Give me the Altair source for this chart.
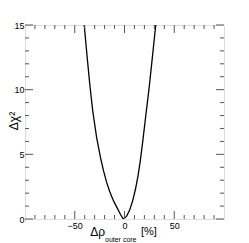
import altair as alt
import pandas as pd

# curve data
curve_x = [-40.5, -37.5, -35.0, -32.0, -28.0, -24.0, -21.0, -18.0, -15.0, -11.0, -7.0, -4.0, -1.3,
           2.0, 5.0, 8.0, 11.0, 13.5, 15.7, 18.5, 21.4, 24.7, 28.0, 31.4]
curve_y = [15.0, 12.5, 10.5, 8.4, 6.3, 4.7, 3.7, 2.85, 2.15, 1.4, 0.8, 0.35, 0.0,
           0.2, 0.65, 1.35, 2.3, 3.3, 4.4, 6.1, 8.0, 10.1, 12.5, 15.0]

x_labels = [-50, 0, 50]
x_minor = [-90, -80, -70, -60, -40, -30, -20, -10, 10, 20, 30, 40, 60, 70, 80, 90]
y_labels = [0, 5, 10, 15]
y_minor = [1, 2, 3, 4, 6, 7, 8, 9, 11, 12, 13, 14]

W, H = 199, 194
FRAME = "#555555"
FONT = "Liberation Sans"

xscale = alt.Scale(domain=[-100, 100], nice=False, zero=False)
yscale = alt.Scale(domain=[0, 15], nice=False, zero=False)

df = pd.DataFrame({"x": curve_x, "y": curve_y, "o": list(range(len(curve_x)))})

line = alt.Chart(df).mark_line(color="black", strokeWidth=1.3, clip=True).encode(
    x=alt.X("x:Q", scale=xscale,
            axis=alt.Axis(values=x_labels, ticks=False, domain=False, grid=False, title=None,
                          labelFontSize=9, labelFont=FONT, labelColor="black", labelPadding=2)),
    y=alt.Y("y:Q", scale=yscale,
            axis=alt.Axis(values=y_labels, ticks=False, domain=False, grid=False, title=None,
                          labelFontSize=9, labelFont=FONT, labelColor="black", labelPadding=1)),
    order="o:Q",
)


def xticks(vals, length, top):
    d = pd.DataFrame({"v": vals})
    if top:
        y1, y2 = 0, length
    else:
        y1, y2 = H, H - length
    return alt.Chart(d).mark_rule(color=FRAME, strokeWidth=1).encode(
        x=alt.X("v:Q", scale=xscale, axis=None), y=alt.value(y1), y2=alt.value(y2))


def yticks(vals, length, right):
    d = pd.DataFrame({"w": vals})
    if right:
        x1, x2 = W, W - length
    else:
        x1, x2 = 0, length
    return alt.Chart(d).mark_rule(color=FRAME, strokeWidth=1).encode(
        y=alt.Y("w:Q", scale=yscale, axis=None), x=alt.value(x1), x2=alt.value(x2))


tick_layers = [
    xticks(x_minor, 4, False), xticks(x_labels, 8, False),
    xticks(x_minor, 4, True), xticks(x_labels, 8, True),
    yticks(y_minor, 4, False), yticks(y_labels, 8, False),
    yticks(y_minor, 4, True), yticks(y_labels, 8, True),
]

tdf = pd.DataFrame({"a": [0]})
ytitle = alt.Chart(tdf).mark_text(text="Δχ²", angle=270, fontSize=12, font=FONT,
                                  color="black", align="center", baseline="middle").encode(
    x=alt.value(-11), y=alt.value(96))
xt1 = alt.Chart(tdf).mark_text(text="Δρ", fontSize=12, font=FONT, color="black",
                               align="right", baseline="middle").encode(
    x=alt.value(80), y=alt.value(207))
xt2 = alt.Chart(tdf).mark_text(text="outer core", fontSize=7, font=FONT, color="black",
                               align="left", baseline="middle").encode(
    x=alt.value(80), y=alt.value(215))
xt3 = alt.Chart(tdf).mark_text(text="[%]", fontSize=11, font=FONT, color="black",
                               align="left", baseline="middle").encode(
    x=alt.value(116), y=alt.value(207))

chart = alt.layer(line, *tick_layers, ytitle, xt1, xt2, xt3).resolve_scale(
    x="independent", y="independent"
).properties(
    width=W, height=H,
    autosize=alt.AutoSizeParams(type="none"),
    padding={"left": 17, "top": 17, "right": 17, "bottom": 26},
).configure_view(stroke=FRAME, strokeWidth=1).configure(background="white")

chart.save("out.html", embed_options={"renderer": "svg", "actions": False})
